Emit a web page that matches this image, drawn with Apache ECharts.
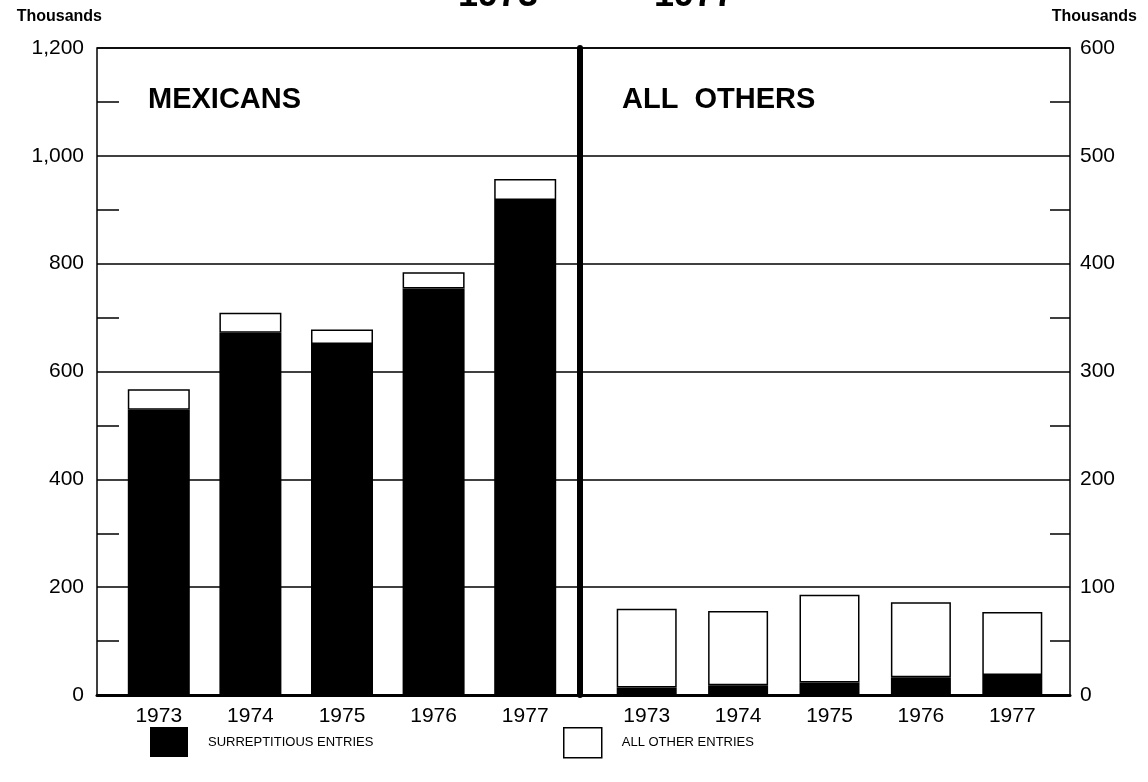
<!DOCTYPE html>
<html>
<head>
<meta charset="utf-8">
<title>1973 - 1977</title>
<script src="https://cdn.jsdelivr.net/npm/echarts@6/dist/echarts.min.js"></script>
<style>
  html, body { margin: 0; padding: 0; background: #fff; }
  #myCharts { width: 1148px; height: 782px; }
</style>
</head>
<body>
<div id="myCharts"></div>
<script>
// data (thousands)
const years = ['1973', '1974', '1975', '1976', '1977']
const mexSurreptitious = [529, 672, 651, 754, 918]
const mexOther = [38, 37, 27, 30, 39]
const othersSurreptitious = [7, 9, 11.5, 16.5, 18.5]
const othersOther = [73, 69, 81.5, 69.5, 58.5]
const leftTicks = [0, 200, 400, 600, 800, 1000, 1200]
const rightTicks = [0, 100, 200, 300, 400, 500, 600]

const font = "'Liberation Sans', Arial, sans-serif"
const black = '#000'

let myCharts = echarts.init(document.getElementById('myCharts'))

// grid 0 = frame + both y axes, grid 1 = mexicans bars, grid 2 = all others bars
let gridTop = 48, gridBottom = 87
let option = {
  animation: false,
  backgroundColor: '#fff',
  textStyle: { fontFamily: font, color: black },
  title: [
    {
      text: '1973    —    1977',
      left: 458,
      top: -22,
      padding: 0,
      textStyle: { fontSize: 36, fontWeight: 'bold', color: black, fontFamily: font }
    },
    {
      text: 'MEXICANS',
      left: 148,
      top: 85,
      padding: 0,
      textStyle: { fontSize: 29, fontWeight: 'bold', color: black, fontFamily: font }
    },
    {
      text: 'ALL  OTHERS',
      left: 622,
      top: 85,
      padding: 0,
      textStyle: { fontSize: 29, fontWeight: 'bold', color: black, fontFamily: font }
    }
  ],
  legend: [
    {
      data: ['SURREPTITIOUS ENTRIES'],
      left: 150,
      top: 727,
      padding: 0,
      icon: 'rect',
      itemWidth: 38,
      itemHeight: 30,
      selectedMode: false,
      textStyle: { fontSize: 13, color: black, padding: [2, 0, 0, 15] }
    },
    {
      data: ['ALL OTHER ENTRIES'],
      left: 563,
      top: 727,
      padding: 0,
      icon: 'rect',
      itemWidth: 38,
      itemHeight: 30,
      selectedMode: false,
      itemStyle: { color: '#fff', borderColor: black, borderWidth: 1.5 },
      textStyle: { fontSize: 13, color: black, padding: [2, 0, 0, 15] }
    }
  ],
  grid: [
    { left: 97, right: 78, top: gridTop, bottom: gridBottom, show: true, borderColor: black, borderWidth: 1.5 },
    { left: 113, width: 458, top: gridTop, bottom: gridBottom },
    { left: 601, width: 457, top: gridTop, bottom: gridBottom }
  ],
  xAxis: [
    {
      gridIndex: 0,
      type: 'value',
      min: 0,
      max: 1,
      z: 10,
      axisLine: { show: true, lineStyle: { color: black, width: 3 } },
      axisTick: { show: false },
      axisLabel: { show: false },
      splitLine: { show: false }
    },
    {
      gridIndex: 1,
      type: 'category',
      data: years,
      axisLine: { show: false },
      axisTick: { show: false },
      axisLabel: { fontSize: 21, color: black, margin: 11 }
    },
    {
      gridIndex: 2,
      type: 'category',
      data: years,
      axisLine: { show: false },
      axisTick: { show: false },
      axisLabel: { fontSize: 21, color: black, margin: 11 }
    }
  ],
  yAxis: [
    {
      gridIndex: 0,
      type: 'value',
      position: 'left',
      min: leftTicks[0],
      max: leftTicks[leftTicks.length - 1],
      interval: leftTicks[1] - leftTicks[0],
      name: 'Thousands',
      nameLocation: 'end',
      nameGap: 23,
      nameTextStyle: { fontSize: 16, fontWeight: 'bold', color: black, align: 'right', padding: [0, -5, 0, 0] },
      axisLine: { show: false },
      axisTick: { show: false, inside: true },
      minorTick: { show: true, splitNumber: 2, length: 22, lineStyle: { color: black, width: 1.5 } },
      axisLabel: {
        fontSize: 21,
        color: black,
        margin: 13,
        formatter: function (v) { return v.toLocaleString('en-US') }
      },
      splitLine: { show: true, lineStyle: { color: black, width: 1.5 } }
    },
    {
      gridIndex: 0,
      type: 'value',
      position: 'right',
      min: rightTicks[0],
      max: rightTicks[rightTicks.length - 1],
      interval: rightTicks[1] - rightTicks[0],
      name: 'Thousands',
      nameLocation: 'end',
      nameGap: 23,
      nameTextStyle: { fontSize: 16, fontWeight: 'bold', color: black, align: 'right', padding: [0, -67, 0, 0] },
      axisLine: { show: false },
      axisTick: { show: false, inside: true },
      minorTick: { show: true, splitNumber: 2, length: 20, lineStyle: { color: black, width: 1.5 } },
      axisLabel: { fontSize: 21, color: black, margin: 10 },
      splitLine: { show: false }
    },
    {
      gridIndex: 1,
      type: 'value',
      min: leftTicks[0],
      max: leftTicks[leftTicks.length - 1],
      show: false
    },
    {
      // its axis line is the thick divider between the two panels
      gridIndex: 2,
      type: 'value',
      position: 'left',
      offset: 21,
      min: rightTicks[0],
      max: rightTicks[rightTicks.length - 1],
      axisLine: { show: true, lineStyle: { color: black, width: 6 } },
      axisTick: { show: false },
      axisLabel: { show: false },
      splitLine: { show: false }
    }
  ],
  series: [
    {
      name: 'SURREPTITIOUS ENTRIES',
      type: 'bar',
      xAxisIndex: 1,
      yAxisIndex: 2,
      stack: 'mex',
      barWidth: 62,
      data: mexSurreptitious,
      itemStyle: { color: black }
    },
    {
      name: 'ALL OTHER ENTRIES',
      type: 'bar',
      xAxisIndex: 1,
      yAxisIndex: 2,
      stack: 'mex',
      barWidth: 62,
      data: mexOther,
      itemStyle: { color: '#fff', borderColor: black, borderWidth: 1.5 }
    },
    {
      name: 'SURREPTITIOUS ENTRIES',
      type: 'bar',
      xAxisIndex: 2,
      yAxisIndex: 3,
      stack: 'others',
      barWidth: 60,
      data: othersSurreptitious,
      itemStyle: { color: black }
    },
    {
      name: 'ALL OTHER ENTRIES',
      type: 'bar',
      xAxisIndex: 2,
      yAxisIndex: 3,
      stack: 'others',
      barWidth: 60,
      data: othersOther,
      itemStyle: { color: '#fff', borderColor: black, borderWidth: 1.5 }
    }
  ]
}

myCharts.setOption(option)
</script>
</body>
</html>
